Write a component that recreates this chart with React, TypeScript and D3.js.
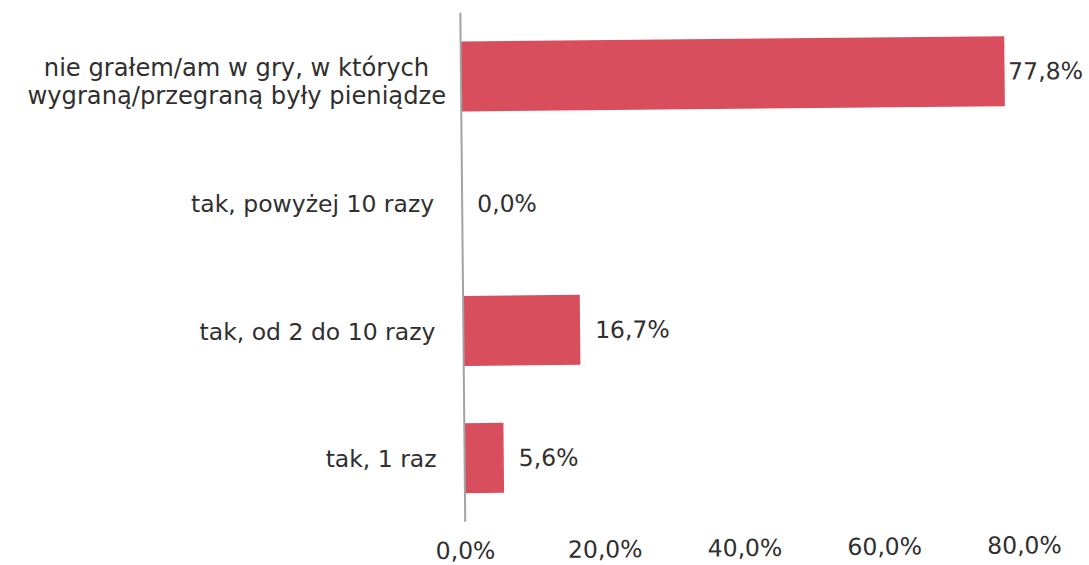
import * as React from 'react'
import * as d3 from 'd3'

const categories = [
  ['nie grałem/am w gry, w których', 'wygraną/przegraną były pieniądze'],
  ['tak, powyżej 10 razy'],
  ['tak, od 2 do 10 razy'],
  ['tak, 1 raz'],
]
const values = [77.8, 0.0, 16.7, 5.6]
const ticks = [0, 20, 40, 60, 80]

const width = 1089
const height = 565
const barColor = '#d84e5c'
const textColor = '#2f2f2f'
const font = '"DejaVu Sans", Verdana, sans-serif'
const fontSize = 23.5

const tilt = -0.55 // the scan is turned a little
const cx = 545, cy0 = 290

const pl = d3.formatLocale({ decimal: ',', thousands: ' ', grouping: [3], currency: ['', ' zł'] })
const pct = (v: number) => pl.format('.1f')(v) + '%'

// where a point of the upright chart lands after the tilt
const turn = (px: number, py: number) => {
  const a = tilt * Math.PI / 180
  const dx = px - cx, dy = py - cy0
  return [cx + dx * Math.cos(a) - dy * Math.sin(a), cy0 + dx * Math.sin(a) + dy * Math.cos(a)]
}

const App = () => {
  const ref = React.useRef<SVGSVGElement>(null)

  React.useEffect(() => {
    const svg = d3.select(ref.current)
    svg.selectAll('*').remove()

    const g = svg.append('g').attr('transform', `rotate(${tilt}, ${cx}, ${cy0})`)

    const x = d3.scaleLinear().domain([0, 80]).range([463, 1022])
    const y = d3.scaleBand<number>()
      .domain(d3.range(categories.length))
      .range([12, 521])
      .paddingInner(0.45)
      .paddingOuter(0.225)

    g.selectAll('rect.bar')
      .data(values)
      .join('rect')
      .attr('class', 'bar')
      .attr('x', x(0))
      .attr('y', (d, i) => y(i)!)
      .attr('width', d => x(d) - x(0))
      .attr('height', y.bandwidth())
      .attr('fill', barColor)

    // axis line
    g.append('line')
      .attr('x1', x(0)).attr('x2', x(0))
      .attr('y1', y.range()[0]).attr('y2', y.range()[1])
      .attr('stroke', '#a3a3a3')
      .attr('stroke-width', 2)

    const txt = (parent: any, size = fontSize) => parent.append('text')
      .attr('font-family', font)
      .attr('font-size', size)
      .attr('fill', textColor)

    // category labels: placed at tilted points but kept level
    const labelRight = 435
    categories.forEach((lines, i) => {
      const my = y(i)! + y.bandwidth() / 2
      if (lines.length === 1) {
        const [px, py] = turn(labelRight, my)
        txt(svg).attr('x', px).attr('y', py).attr('dy', '0.36em')
          .attr('text-anchor', 'end').text(lines[0])
      } else {
        const lh = 28.4
        const ts = lines.map(l => txt(svg, fontSize + 0.7)
          .attr('dy', '0.36em')
          .attr('text-anchor', 'middle')
          .text(l))
        const maxW = d3.max(ts, (t: any) => (t.node() as SVGTextElement).getComputedTextLength()) || 0
        ts.forEach((t: any, k: number) => {
          const [px, py] = turn(labelRight + 13 - maxW / 2, my + 3 + (k - (lines.length - 1) / 2) * lh)
          t.attr('x', px).attr('y', py)
        })
      }
    })

    // value labels
    values.forEach((v, i) => {
      const t = txt(g)
        .attr('y', y(i)! + y.bandwidth() / 2)
        .attr('dy', '0.36em')
        .text(pct(v))
      const w = (t.node() as SVGTextElement).getComputedTextLength()
      t.attr('x', Math.min(x(v) + 15, width - 4 - w))
    })

    // tick labels
    ticks.forEach(d => {
      txt(g).attr('x', x(d)).attr('y', 558)
        .attr('text-anchor', 'middle')
        .text(pct(d))
    })
  }, [])

  return (
    <svg ref={ref} width={width} height={height}
      style={{ position: 'absolute', left: 0, top: 0, background: '#fff' }} />
  )
}

export default App
